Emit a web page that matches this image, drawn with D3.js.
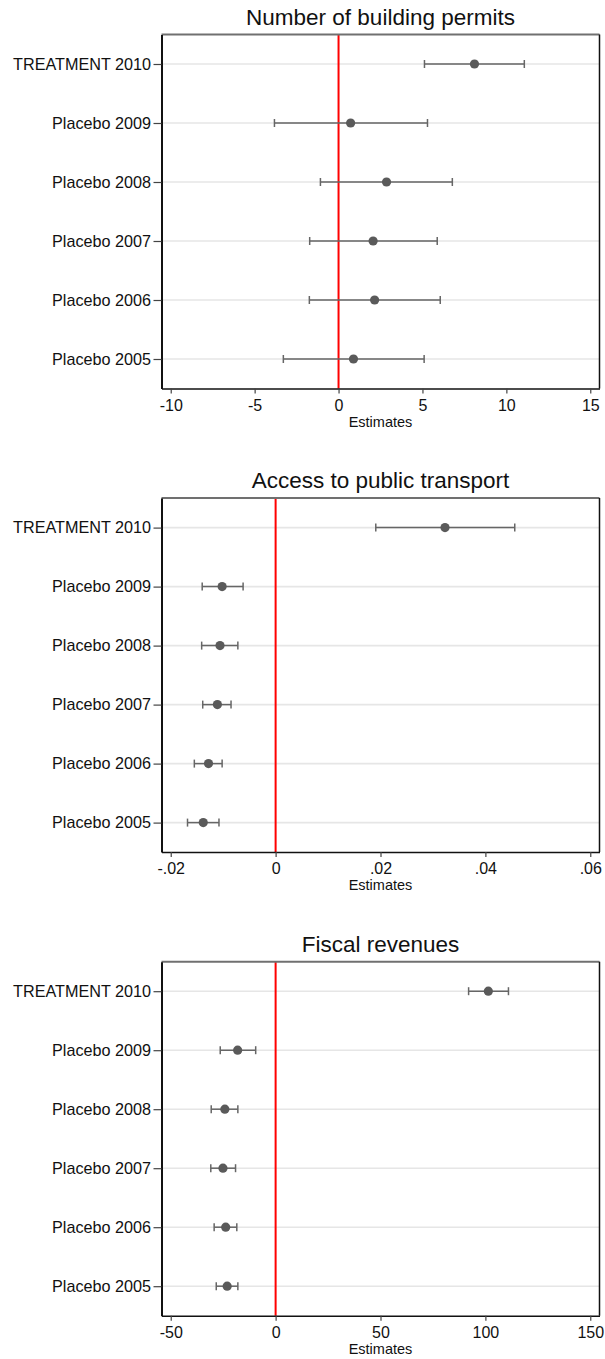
<!DOCTYPE html>
<html>
<head>
<meta charset="utf-8">
<script src="https://cdn.jsdelivr.net/npm/d3@7"></script>
<style>
  body { margin: 0; background: #fff; }
  text { font-family: "Liberation Sans", Arial, sans-serif; fill: #111; }
</style>
</head>
<body>
<svg id="chart" width="605" height="1359"></svg>
<script>
// row labels, top to bottom
const rows = ["TREATMENT 2010", "Placebo 2009", "Placebo 2008", "Placebo 2007", "Placebo 2006", "Placebo 2005"];

// Number of building permits
const permitsEst = [8.1, 0.72, 2.86, 2.06, 2.15, 0.89];
const permitsLo  = [5.12, -3.82, -1.08, -1.72, -1.74, -3.29];
const permitsHi  = [11.07, 5.3, 6.78, 5.88, 6.06, 5.1];
const permitsTicks = [-10, -5, 0, 5, 10, 15];

// Access to public transport
const transportEst = [0.0323, -0.0102, -0.0106, -0.0111, -0.0128, -0.0138];
const transportLo  = [0.0191, -0.0140, -0.0141, -0.0139, -0.0155, -0.0168];
const transportHi  = [0.0456, -0.0062, -0.0072, -0.0085, -0.0102, -0.0108];
const transportTicks = [-0.02, 0, 0.02, 0.04, 0.06];

// Fiscal revenues
const revenueEst = [101.4, -18.1, -24.2, -25.1, -23.8, -23.1];
const revenueLo  = [92.0, -26.4, -30.7, -30.9, -29.3, -28.3];
const revenueHi  = [111.0, -9.5, -18.0, -19.1, -18.5, -18.0];
const revenueTicks = [-50, 0, 50, 100, 150];

const titles = ["Number of building permits", "Access to public transport", "Fiscal revenues"];

// plain hyphen minus, and stata style ".02" instead of "0.02"
const locale = d3.formatLocale({decimal: ".", thousands: ",", grouping: [3], currency: ["", ""], minus: "-"});
const intFmt = locale.format("d");
const dotFmt = d => d === 0 ? "0" : locale.format(".2f")(d).replace("0.", ".");

const panels = [
  {title: titles[0], est: permitsEst, lo: permitsLo, hi: permitsHi, ticks: permitsTicks, fmt: intFmt},
  {title: titles[1], est: transportEst, lo: transportLo, hi: transportHi, ticks: transportTicks, fmt: dotFmt},
  {title: titles[2], est: revenueEst, lo: revenueLo, hi: revenueHi, ticks: revenueTicks, fmt: intFmt}
];

const svg = d3.select("#chart");
svg.append("rect").attr("width", 605).attr("height", 1359).attr("fill", "#fff");

const left = 161.5, right = 599.5,
      top0 = 34.5, plotH = 354, step = 463.6;

panels.forEach((p, i) => {
  const g = svg.append("g").attr("transform", `translate(0,${top0 + i * step})`);

  const t0 = p.ticks[0], t1 = p.ticks[p.ticks.length - 1];
  const pad = (t1 - t0) * 0.022;
  const x = d3.scaleLinear().domain([t0 - pad, t1 + pad]).range([left, right]);
  const y = d3.scalePoint().domain(rows).range([0, plotH]).padding(0.5);

  const data = rows.map((r, k) => ({row: r, est: p.est[k], lo: p.lo[k], hi: p.hi[k]}));

  // grid lines
  g.selectAll(".grid")
    .data(rows)
    .enter()
    .append("line")
    .attr("class", "grid")
    .attr("x1", left).attr("x2", right)
    .attr("y1", d => y(d)).attr("y2", d => y(d))
    .style("stroke", "#e6e6e6")
    .style("stroke-width", 1.6);

  // zero line
  g.append("line")
    .attr("x1", x(0)).attr("x2", x(0))
    .attr("y1", 0).attr("y2", plotH)
    .style("stroke", "#ff0000")
    .style("stroke-width", 2);

  // confidence intervals
  const ci = g.selectAll(".ci").data(data).enter().append("g").attr("class", "ci");
  ci.append("line")
    .attr("x1", d => x(d.lo)).attr("x2", d => x(d.hi))
    .attr("y1", d => y(d.row)).attr("y2", d => y(d.row));
  ci.append("line")
    .attr("x1", d => x(d.lo)).attr("x2", d => x(d.lo))
    .attr("y1", d => y(d.row) - 4).attr("y2", d => y(d.row) + 4);
  ci.append("line")
    .attr("x1", d => x(d.hi)).attr("x2", d => x(d.hi))
    .attr("y1", d => y(d.row) - 4).attr("y2", d => y(d.row) + 4);
  ci.selectAll("line")
    .style("stroke", "#666")
    .style("stroke-width", 1.5);

  // point estimates
  g.selectAll(".pt")
    .data(data)
    .enter()
    .append("circle")
    .attr("class", "pt")
    .attr("cx", d => x(d.est))
    .attr("cy", d => y(d.row))
    .attr("r", 4.6)
    .style("fill", "#5a5a5a");

  // frame: grey top, black right
  g.append("line")
    .attr("x1", left).attr("x2", right).attr("y1", 0).attr("y2", 0)
    .style("stroke", "#707070").style("stroke-width", 2);
  g.append("line")
    .attr("x1", right).attr("x2", right).attr("y1", 0).attr("y2", plotH)
    .style("stroke", "#111").style("stroke-width", 1.5);

  // y axis
  const yAxis = g.append("g")
    .attr("transform", `translate(${left},0)`)
    .call(d3.axisLeft(y).tickSize(8).tickSizeOuter(0).tickPadding(2.5));
  yAxis.select(".domain").style("stroke", "#111").style("stroke-width", 2);
  yAxis.selectAll(".tick line").style("stroke", "#444").style("stroke-width", 1.2);
  yAxis.selectAll(".tick text").style("font-size", "16.2px").style("fill", "#111");

  // x axis
  const xAxis = g.append("g")
    .attr("transform", `translate(0,${plotH})`)
    .call(d3.axisBottom(x).tickValues(p.ticks).tickFormat(p.fmt).tickSize(5).tickSizeOuter(0).tickPadding(6));
  xAxis.select(".domain").style("stroke", "#111").style("stroke-width", 1.5);
  xAxis.selectAll(".tick line").style("stroke", "#444").style("stroke-width", 1.2);
  xAxis.selectAll(".tick text").style("font-size", "16px").style("fill", "#111");

  // x title
  g.append("text")
    .attr("x", (left + right) / 2)
    .attr("y", plotH + 38)
    .attr("text-anchor", "middle")
    .style("font-size", "14.5px")
    .text("Estimates");

  // panel title
  g.append("text")
    .attr("x", (left + right) / 2)
    .attr("y", -10)
    .attr("text-anchor", "middle")
    .style("font-size", "22.5px")
    .text(p.title);
});
</script>
</body>
</html>
